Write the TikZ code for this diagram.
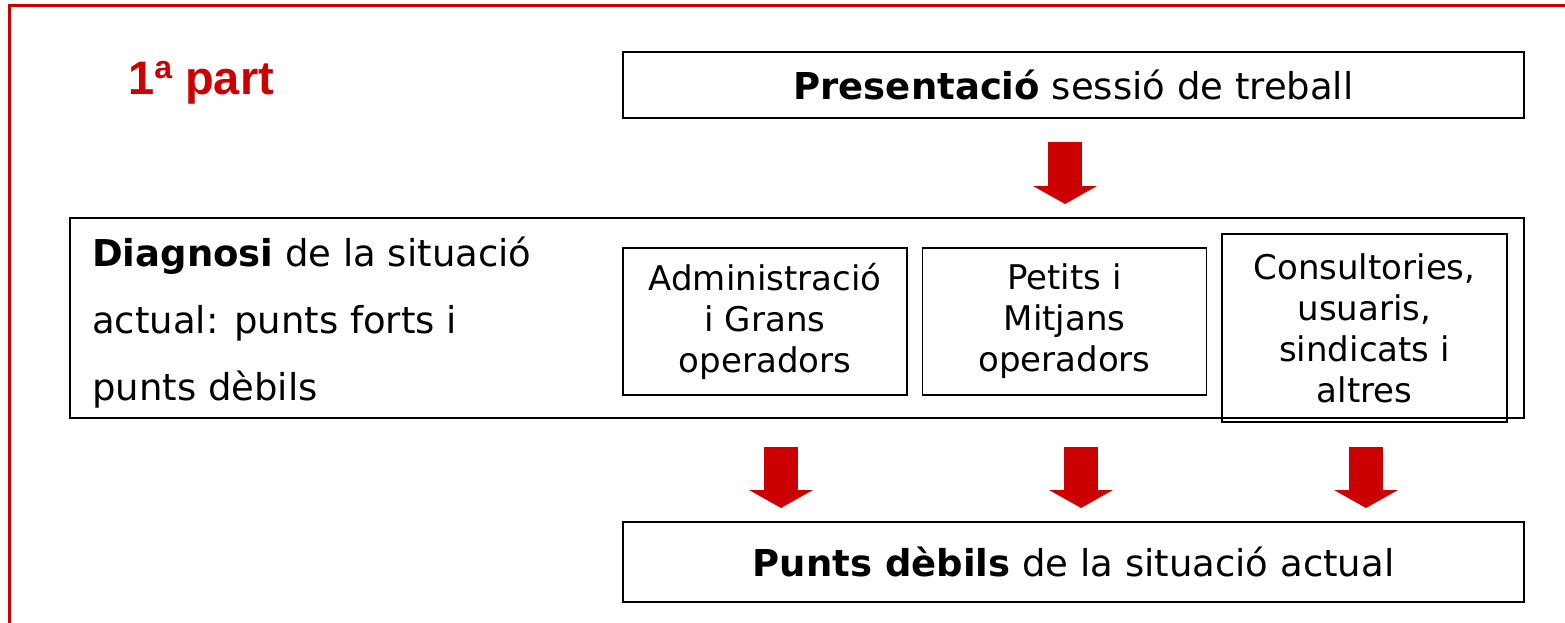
\documentclass[tikz,border=0pt]{standalone}
\usepackage{fontspec}
\setmainfont{DejaVu Sans}
\newfontfamily\titlefont{Liberation Sans}
\usetikzlibrary{arrows.meta,positioning}
\definecolor{partred}{RGB}{204,0,0}
\tikzset{
  box/.style={draw, line width=1.8pt, inner sep=0pt, outer sep=0pt, align=center,
    font=\fontsize{34}{41}\selectfont},
  bigbox/.style={box, font=\fontsize{37}{44}\selectfont},
  bigarrow/.style={partred, line width=34pt,
    -{Triangle[width=64pt,length=18pt,line width=0pt]}}
}
\begin{document}
\begin{tikzpicture}[x=1pt,y=-1pt]
		\useasboundingbox (0,0) rectangle (1565,623);
		\fill[white] (0,0) rectangle (1565,623);
		\draw[partred, line width=3pt] (9.5,623) -- (9.5,6) -- (1565,6);

		\path (128,95)       node[anchor=base west, inner sep=0pt, text=partred,
		                          font=\titlefont\bfseries\fontsize{47}{47}\selectfont] (part)
		                          {1\raisebox{16pt}{\fontsize{32}{32}\selectfont a} part}
		      (1073.5,85)    node[bigbox, minimum width=901pt, minimum height=66pt] (pres)
		                          {\textbf{Presentació} sessió de treball}
		      (797,318)      node[box, minimum width=1454pt, minimum height=200pt] (diag) {}
		      (92,322.5)     node[anchor=west, inner sep=0pt, align=left,
		                          font=\fontsize{37}{67}\selectfont] (diagtxt)
		                          {\textbf{Diagnosi} de la situació\\actual: punts forts i\\punts dèbils}
		      (765,321.5)    node[box, minimum width=284pt, minimum height=147pt] (admin)
		                          {Administració\\i Grans\\operadors}
		      (1064.5,321.5) node[box, minimum width=284pt, minimum height=147pt] (petits)
		                          {Petits i\\Mitjans\\operadors}
		      (1364.5,328)   node[box, minimum width=285pt, minimum height=188pt] (consult)
		                          {Consultories,\\usuaris,\\sindicats i\\altres}
		      (1073.5,562)   node[bigbox, minimum width=901pt, minimum height=80pt] (punts)
		                          {\textbf{Punts dèbils} de la situació actual};

		\path (1065,142) coordinate (pres-out)  (1065,204) coordinate (diag-in)
		      (781,447)  coordinate (admin-out)  (781,508)  coordinate (punts-a)
		      (1081,447) coordinate (petits-out) (1081,508) coordinate (punts-b)
		      (1366,447) coordinate (consult-out) (1366,508) coordinate (punts-c);

		\draw[bigarrow] (pres-out) -- (diag-in);
		\draw[bigarrow] (admin-out) -- (punts-a);
		\draw[bigarrow] (petits-out) -- (punts-b);
		\draw[bigarrow] (consult-out) -- (punts-c);
	\end{tikzpicture}
\end{document}
